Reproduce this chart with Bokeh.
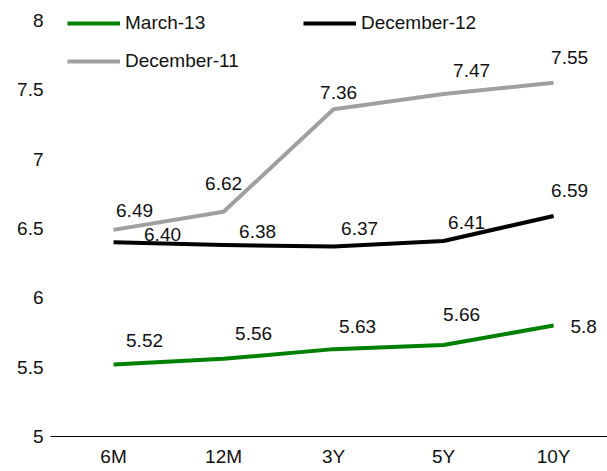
from bokeh.plotting import figure
from bokeh.models import (FixedTicker, NumeralTickFormatter, Legend, LegendItem,
                          ColumnDataSource, Range1d)
from bokeh.core.properties import value
from bokeh.embed import file_html
from bokeh.resources import INLINE

# ---- data ----
tenors = ["6M", "12M", "3Y", "5Y", "10Y"]
march13 = [5.52, 5.56, 5.63, 5.66, 5.80]
dec12 = [6.40, 6.38, 6.37, 6.41, 6.59]
dec11 = [6.49, 6.62, 7.36, 7.47, 7.55]
march13_labels = ["5.52", "5.56", "5.63", "5.66", "5.8"]
dec12_labels = ["6.40", "6.38", "6.37", "6.41", "6.59"]
dec11_labels = ["6.49", "6.62", "7.36", "7.47", "7.55"]
y_ticks = [5, 5.5, 6, 6.5, 7, 7.5, 8]

# ---- label placement (pixel offsets, style only) ----
march13_dx = [31, 30, 24, 18, 30]
march13_dy = [-24, -25, -23, -30, 1]
dec12_dx = [49, 34, 26, 23, 16]
dec12_dy = [-8, -14, -18, -18, -25]
dec11_dx = [21, 0, 5, 28, 16]
dec11_dy = [-19, -28, -17, -23, -25]

FONT = "Liberation Sans"
FS = "19px"

idx = list(range(len(tenors)))

p = figure(width=607, height=471, output_backend="svg", toolbar_location=None,
           x_range=Range1d(-0.573, 4.49), y_range=Range1d(5, 8.115),
           min_border_left=50, min_border_right=0, min_border_top=4,
           min_border_bottom=35)
p.outline_line_color = None
p.xgrid.visible = False
p.ygrid.visible = False
p.background_fill_color = "white"
p.border_fill_color = "white"

series = [
    ("March-13", march13, march13_labels, march13_dx, march13_dy, "#008000"),
    ("December-12", dec12, dec12_labels, dec12_dx, dec12_dy, "#000000"),
    ("December-11", dec11, dec11_labels, dec11_dx, dec11_dy, "#A0A0A0"),
]
renderers = {}
for name, vals, labs, dx, dy, col in series:
    src = ColumnDataSource(dict(x=idx, y=vals, t=labs, dx=dx, dy=dy))
    r = p.line("x", "y", source=src, line_color=col, line_width=4,
               line_join="round")
    renderers[name] = r
    p.text("x", "y", text="t", source=src, x_offset="dx", y_offset="dy",
           text_align="center", text_baseline="middle",
           text_font=value(FONT), text_font_size=FS, text_color="#111111")

# x axis
xa = p.xaxis[0]
xa.ticker = FixedTicker(ticks=idx)
xa.major_label_overrides = {i: t for i, t in zip(idx, tenors)}
xa.axis_line_color = "#000000"
xa.axis_line_width = 1
xa.major_tick_line_color = None
xa.minor_tick_line_color = None
xa.major_tick_out = 0
xa.major_label_standoff = 9
xa.major_label_text_font = FONT
xa.major_label_text_font_size = FS
xa.major_label_text_color = "#111111"

# y axis
ya = p.yaxis[0]
ya.ticker = FixedTicker(ticks=y_ticks)
ya.formatter = NumeralTickFormatter(format="0.[0]")
ya.axis_line_color = None
ya.major_tick_line_color = None
ya.minor_tick_line_color = None
ya.major_tick_out = 0
ya.major_label_standoff = 7
ya.major_label_text_font = FONT
ya.major_label_text_font_size = FS
ya.major_label_text_color = "#111111"

def make_legend(items, loc):
    lg = Legend(items=items, location=loc, orientation="horizontal",
                padding=0, margin=0, spacing=0, border_line_color=None,
                background_fill_alpha=0, glyph_width=53, glyph_height=22,
                label_height=22, label_width=178, label_standoff=5,
                label_text_font=FONT, label_text_font_size=FS,
                label_text_baseline="middle", label_text_color="#111111")
    return lg

lg1 = make_legend([LegendItem(label="March-13", renderers=[renderers["March-13"]]),
                   LegendItem(label="December-12", renderers=[renderers["December-12"]])],
                  (17, 402))
lg2 = make_legend([LegendItem(label="December-11", renderers=[renderers["December-11"]])],
                  (17, 364))
p.add_layout(lg1, "center")
p.add_layout(lg2, "center")

open("out.html", "w").write(file_html(p, INLINE))
